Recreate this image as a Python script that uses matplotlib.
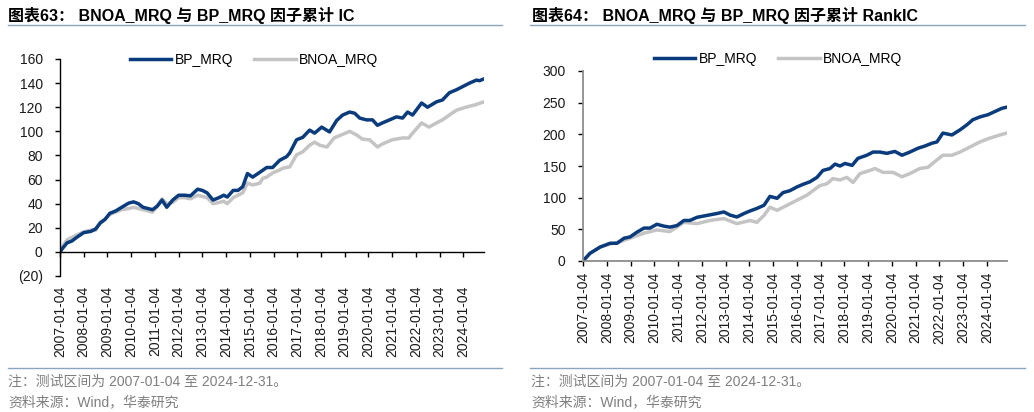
import matplotlib
matplotlib.use("Agg")
import matplotlib.pyplot as plt
from matplotlib.lines import Line2D
from matplotlib.ticker import FuncFormatter

plt.rcParams['font.family'] = ['Liberation Sans', 'Noto Sans CJK SC', 'DejaVu Sans']

# ---------------- data ----------------
tick_years = list(range(2007, 2025))
tick_labels = [f"{y}-01-04" for y in tick_years]

ic_bp_x = [2007.0, 2007.15, 2007.3, 2007.5, 2007.7, 2008.0, 2008.3, 2008.5, 2008.7, 2008.9,
           2009.1, 2009.35, 2009.6, 2009.9, 2010.1, 2010.3, 2010.5, 2010.7, 2010.9, 2011.1,
           2011.3, 2011.5, 2011.75, 2012.0, 2012.25, 2012.5, 2012.8, 2013.0, 2013.2, 2013.45,
           2013.7, 2013.9, 2014.05, 2014.3, 2014.5, 2014.7, 2014.9, 2015.12, 2015.42, 2015.71,
           2015.96, 2016.26, 2016.55, 2016.68, 2016.97, 2017.23, 2017.52, 2017.73, 2018.03, 2018.36,
           2018.66, 2018.91, 2019.21, 2019.42, 2019.63, 2019.92, 2020.17, 2020.38, 2020.59, 2020.89,
           2021.18, 2021.44, 2021.65, 2021.86, 2022.24, 2022.49, 2022.87, 2023.12, 2023.41, 2023.71,
           2023.96, 2024.26, 2024.55, 2024.68, 2024.87]
ic_bp_y = [0, 4, 7.5, 9, 12, 16, 17, 19, 24, 27,
           32, 34, 37, 40.5, 41.5, 40, 37, 36, 35, 38,
           43, 37, 43, 47, 47, 46.5, 52, 51, 49, 43,
           45, 47, 45.5, 51, 51, 54, 65, 62, 66, 70,
           70, 76, 79, 82, 93, 95, 101, 98.5, 103.5, 99.5,
           109, 113.5, 116, 115, 111, 109.5, 109.5, 105, 107, 109.5,
           112, 111, 116, 113.5, 123.5, 120, 124.5, 126, 132, 134.5,
           137, 140, 142.5, 142, 143.5]

ic_bnoa_x = [2007.0, 2007.15, 2007.3, 2007.5, 2007.7, 2008.0, 2008.3, 2008.5, 2008.7, 2008.9,
             2009.1, 2009.35, 2009.6, 2009.9, 2010.1, 2010.3, 2010.5, 2010.7, 2010.9, 2011.1,
             2011.3, 2011.5, 2011.75, 2012.0, 2012.25, 2012.5, 2012.8, 2013.0, 2013.2, 2013.45,
             2013.7, 2013.9, 2014.05, 2014.3, 2014.5, 2014.7, 2014.9, 2015.12, 2015.42, 2015.55,
             2015.71, 2015.96, 2016.26, 2016.4, 2016.68, 2016.97, 2017.23, 2017.52, 2017.73, 2017.95,
             2018.25, 2018.55, 2018.85, 2019.21, 2019.5, 2019.75, 2020.05, 2020.38, 2020.59, 2021.0,
             2021.44, 2021.7, 2021.86, 2022.24, 2022.55, 2022.87, 2023.12, 2023.41, 2023.71, 2024.1,
             2024.5, 2024.87]
ic_bnoa_y = [0, 6, 10, 12, 14, 16.5, 18, 18, 25, 27,
             31, 33, 35, 36, 37, 36, 35, 34, 33, 38,
             44, 40, 41, 45, 45, 44, 47, 46, 45, 40,
             41, 42, 40, 45, 47, 49, 57, 55.5, 57, 61,
             62, 65.5, 68, 69.5, 70.5, 80.5, 83, 88.5, 91, 88.5,
             87, 94.5, 97, 100, 97, 93.5, 93, 87, 89.5, 93,
             94.5, 94.5, 98.5, 107, 103.5, 107, 109.5, 113.5, 117.5, 120,
             122, 124.5]

ric_bp_x = [2007.0, 2007.29, 2007.72, 2008.14, 2008.43, 2008.73, 2008.98, 2009.27, 2009.57, 2009.82,
            2010.11, 2010.41, 2010.66, 2010.96, 2011.25, 2011.5, 2011.8, 2012.22, 2012.64, 2012.93,
            2013.19, 2013.48, 2013.78, 2014.03, 2014.32, 2014.62, 2014.87, 2015.17, 2015.42, 2015.71,
            2016.01, 2016.26, 2016.55, 2016.85, 2017.1, 2017.4, 2017.61, 2017.82, 2018.03, 2018.33,
            2018.57, 2018.95, 2019.21, 2019.5, 2019.79, 2020.13, 2020.43, 2020.76, 2021.1, 2021.39,
            2021.69, 2021.9, 2022.15, 2022.53, 2022.87, 2023.16, 2023.41, 2023.71, 2024.05, 2024.34,
            2024.63, 2024.85]
ric_bp_y = [0, 12, 22, 28, 28, 36, 38, 45.5, 52, 52,
            58, 55, 53.5, 56, 64, 64, 69, 72, 75, 77.5,
            72.5, 69.5, 75, 79, 83, 88, 102, 99, 108, 111,
            117, 121, 125, 132, 143, 146, 153, 150, 154, 151,
            162, 167, 172, 172, 170, 173, 167, 172, 178, 181.5,
            186, 188, 202, 199, 207, 215, 223, 227.5, 231, 236,
            241, 243]

ric_bnoa_x = [2007.0, 2007.29, 2007.72, 2008.14, 2008.43, 2008.98, 2009.57, 2010.11, 2010.66, 2011.25,
              2011.8, 2012.35, 2012.93, 2013.48, 2014.03, 2014.32, 2014.62, 2014.87, 2015.17, 2015.59,
              2016.01, 2016.43, 2016.68, 2016.97, 2017.27, 2017.52, 2017.82, 2018.11, 2018.37, 2018.66,
              2019.08, 2019.29, 2019.63, 2020.05, 2020.43, 2020.76, 2021.18, 2021.52, 2021.73, 2022.15,
              2022.53, 2022.87, 2023.29, 2023.71, 2024.13, 2024.55, 2024.85]
ric_bnoa_y = [0, 12, 22, 27, 29, 36, 44, 49, 46.5, 61,
              59, 64, 67, 59, 64, 61, 72, 85, 80, 88,
              96, 104, 111, 119, 122, 130, 128, 132, 124, 138,
              143, 146, 140, 140, 133, 138, 146, 148, 154.5, 167,
              167, 172, 180, 188, 194, 199, 202]

# ---------------- styling ----------------
BLUE = '#0a3b7c'
GRAY = '#c4c4c4'
RULE = '#8ba4bf'
NOTE = '#7f7f7f'
TXT = '#1a1a1a'


def yfmt(v, pos):
    v = int(round(v))
    return f"({abs(v)})" if v < 0 else f"{v}"


fig = plt.figure(figsize=(10.34, 4.12), dpi=100)

W, H = 1034.0, 412.0


def fx(px):
    return px / W


def fy(py):
    return 1 - py / H


# ---- left panel ----
axL = fig.add_axes([fx(60), fy(276), fx(484 - 60), (276 - 59) / H])
for s in ['top', 'right']:
    axL.spines[s].set_visible(False)
axL.spines['bottom'].set_position(('data', 0))
axL.plot(ic_bnoa_x, ic_bnoa_y, color=GRAY, lw=2.5, label='BNOA_MRQ', solid_joinstyle='round')
axL.plot(ic_bp_x, ic_bp_y, color=BLUE, lw=2.5, label='BP_MRQ', solid_joinstyle='round')
axL.set_xlim(2007.0, 2024.87)
axL.set_ylim(-20, 160)
axL.set_yticks(range(-20, 161, 20))
axL.yaxis.set_major_formatter(FuncFormatter(yfmt))
axL.set_xticks(tick_years)
axL.set_xticklabels(tick_labels)
axL.spines['bottom'].set_color('black')
axL.spines['left'].set_color('black')
axL.spines['bottom'].set_linewidth(1.0)
axL.spines['left'].set_linewidth(1.0)
axL.tick_params(axis='x', direction='out', length=3.5, width=1.0, pad=21, labelsize=10,
                labelcolor=TXT, labelrotation=90)
axL.tick_params(axis='y', direction='out', length=3.5, width=1.0, pad=9, labelsize=10, labelcolor=TXT)
hL, lL = axL.get_legend_handles_labels()
axL.legend([hL[1], hL[0]], [lL[1], lL[0]], loc='center', bbox_to_anchor=(fx(254), fy(60)),
           bbox_transform=fig.transFigure, ncol=2, frameon=False, fontsize=10,
           handlelength=3.0, handletextpad=0.25, columnspacing=1.5, borderpad=0)

# ---- right panel ----
axR = fig.add_axes([fx(583), fy(261), fx(1007 - 583), (261 - 71) / H])
axR.plot(ric_bnoa_x, ric_bnoa_y, color=GRAY, lw=2.5, label='BNOA_MRQ', solid_joinstyle='round')
axR.plot(ric_bp_x, ric_bp_y, color=BLUE, lw=2.5, label='BP_MRQ', solid_joinstyle='round')
axR.set_xlim(2007.0, 2024.85)
axR.set_ylim(0, 300)
axR.set_yticks(range(0, 301, 50))
axR.yaxis.set_major_formatter(FuncFormatter(yfmt))
axR.set_xticks(tick_years)
axR.set_xticklabels(tick_labels)
for s in ['top', 'right']:
    axR.spines[s].set_visible(False)
for s in ['bottom', 'left']:
    axR.spines[s].set_color('#8c8c8c')
    axR.spines[s].set_linewidth(1.3)
axR.tick_params(axis='x', direction='out', length=3.5, width=1.0, pad=4.5, labelsize=10,
                labelcolor=TXT, labelrotation=90)
axR.tick_params(axis='y', direction='out', length=3.5, width=1.0, pad=9, labelsize=10, labelcolor=TXT)
hR, lR = axR.get_legend_handles_labels()
axR.legend([hR[1], hR[0]], [lR[1], lR[0]], loc='center', bbox_to_anchor=(fx(778), fy(59)),
           bbox_transform=fig.transFigure, ncol=2, frameon=False, fontsize=10,
           handlelength=3.0, handletextpad=0.25, columnspacing=1.5, borderpad=0)

# ---- titles, rules, notes ----
fig.text(fx(8), fy(15), '图表63： BNOA_MRQ 与 BP_MRQ 因子累计 IC', fontsize=11.5,
         fontweight='bold', va='center', ha='left', color='black')
fig.text(fx(532), fy(15), '图表64： BNOA_MRQ 与 BP_MRQ 因子累计 RankIC', fontsize=11.5,
         fontweight='bold', va='center', ha='left', color='black')

for (x0, x1) in [(8, 502), (530, 1025)]:
    for yy in (25, 368):
        fig.add_artist(Line2D([fx(x0), fx(x1)], [fy(yy), fy(yy)], transform=fig.transFigure,
                              color=RULE, lw=1.0))

for x0 in (8, 531):
    fig.text(fx(x0), fy(382), '注：测试区间为 2007-01-04 至 2024-12-31。', fontsize=10,
             color=NOTE, va='center', ha='left')
    fig.text(fx(x0), fy(402), '资料来源：Wind，华泰研究', fontsize=10,
             color=NOTE, va='center', ha='left')

fig.savefig('out.png', dpi=100)
